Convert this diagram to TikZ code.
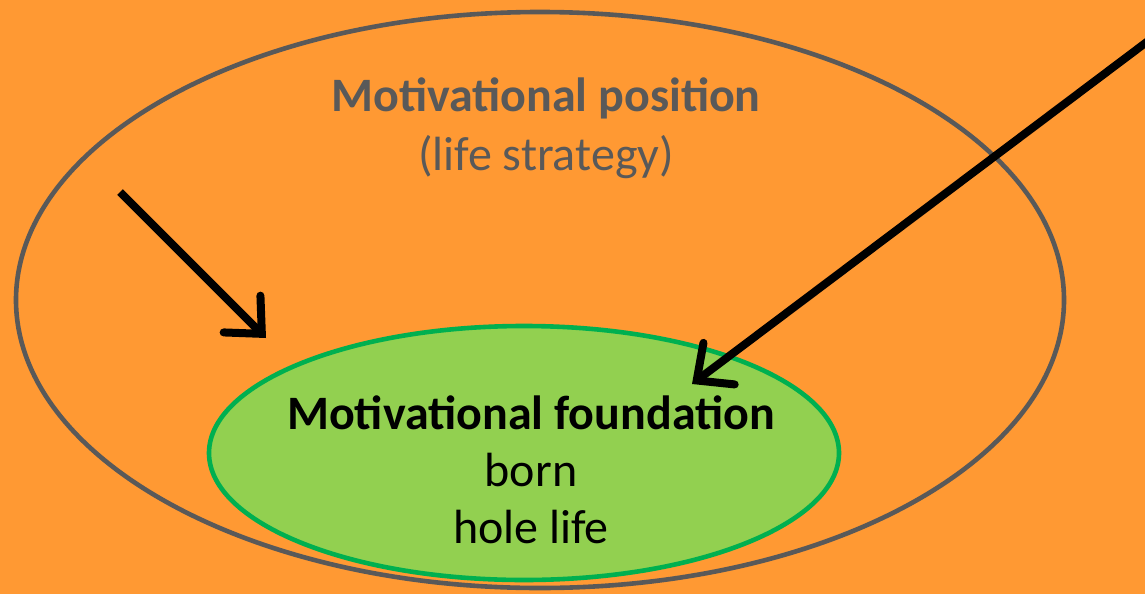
\documentclass[tikz,border=0pt]{standalone}
\usepackage{fontspec}
\setmainfont{Carlito}
\usepackage{xcolor}
\usetikzlibrary{shapes.geometric,arrows.meta}
\definecolor{bgorange}{HTML}{FF9933}
\definecolor{posgray}{HTML}{595959}
\definecolor{fndgreen}{HTML}{92D050}
\definecolor{fndedge}{HTML}{00B050}

\begin{document}
\begin{tikzpicture}[x=0.5pt,y=-0.5pt]
\fill[bgorange] (0,0) rectangle (1145,594);
\useasboundingbox (0,0) rectangle (1145,594);
\clip (0,0) rectangle (1145,594);
\node[ellipse,draw=posgray,line width=2.3pt,inner sep=0,minimum width=524pt,minimum height=288pt] (position) at (540,300) {};
\node[ellipse,draw=fndedge,fill=fndgreen,line width=2.3pt,inner sep=0,minimum width=315pt,minimum height=127pt] (foundation) at (524,453) {};
\node[text=posgray,font=\fontsize{24}{28}\selectfont\bfseries] (title) at (546,98) {Motivational position};
\node[text=posgray,font=\fontsize{24}{28}\selectfont] (strategy) at (546,157) {(life strategy)};
\node[font=\fontsize{24}{28}\selectfont\bfseries] (fndtitle) at (531,413) {Motivational foundation};
\node[font=\fontsize{24}{28}\selectfont] (born) at (531,470) {born};
\node[font=\fontsize{24}{28}\selectfont] (life) at (531,527) {hole life};
\coordinate (leftstart) at (120,192);
\coordinate (lefttip) at (266,338);
\coordinate (rightstart) at (1160,32);
\coordinate (righttip) at (692,384);
\draw[line width=4pt,-{Straight Barb[length=14pt,width=26pt,line cap=round]}] (leftstart)--(lefttip);
\draw[line width=4pt,-{Straight Barb[length=14pt,width=26pt,line cap=round]}] (rightstart)--(righttip);
\end{tikzpicture}
\end{document}
